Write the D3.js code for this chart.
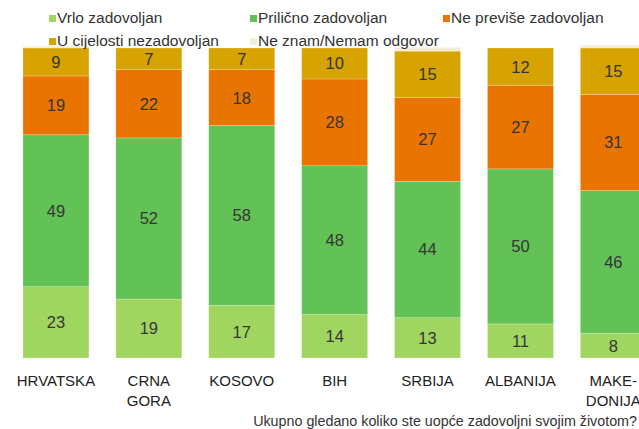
<!DOCTYPE html>
<html><head><meta charset="utf-8">
<script src="https://cdn.jsdelivr.net/npm/d3@7"></script>
<style>
html,body{margin:0;padding:0;background:#fff;}
svg{display:block;font-family:"Liberation Sans",Arial,Helvetica,sans-serif;}
</style></head>
<body>
<svg id="chart" width="639" height="429"></svg>
<script>
const categories = ["HRVATSKA", "CRNA\nGORA", "KOSOVO", "BIH", "SRBIJA", "ALBANIJA", "MAKE-\nDONIJA"];
const seriesNames = ["Vrlo zadovoljan", "Prilično zadovoljan", "Ne previše zadovoljan", "U cijelosti nezadovoljan", "Ne znam/Nemam odgovor"];
const vrlo     = [23, 19, 17, 14, 13, 11, 8];
const prilicno = [49, 52, 58, 48, 44, 50, 46];
const nePrevise= [19, 22, 18, 28, 27, 27, 31];
const uCijelosti=[9, 7, 7, 10, 15, 12, 15];
const neZnam   = [0.6, 0, 0, 0, 1.2, 0, 0.9];
const colors = ["#a0d660", "#62c256", "#ea7400", "#d6a300", "#f1edd6"];
const footnote = "Ukupno gledano koliko ste uopće zadovoljni svojim životom?";

const series = [vrlo, prilicno, nePrevise, uCijelosti, neZnam];
const data = categories.map((c, i) => {
  const o = {cat: c};
  seriesNames.forEach((s, j) => o[s] = series[j][i]);
  return o;
});
const stacked = d3.stack().keys(seriesNames)(data);

const svg = d3.select("#chart");
const x = d3.scaleBand().domain(categories).range([9.5, 659.8]).paddingInner(0.29).paddingOuter(0.145);
const y = d3.scaleLinear().domain([0, 100]).range([358, 48]);

const g = svg.append("g");
stacked.forEach((layer, j) => {
  const lg = g.append("g").attr("fill", colors[j]);
  lg.selectAll("rect").data(layer).join("rect")
    .attr("x", d => x(d.data.cat))
    .attr("width", x.bandwidth())
    .attr("y", d => y(d[1]))
    .attr("height", d => Math.max(0, y(d[0]) - y(d[1])))
    .attr("stroke", "rgba(255,255,255,0.35)")
    .attr("stroke-width", 0.6);
  if (j < 4) {
    g.append("g").selectAll("text").data(layer).join("text")
      .attr("x", d => x(d.data.cat) + x.bandwidth() / 2)
      .attr("y", d => (y(d[0]) + y(d[1])) / 2)
      .attr("dy", "0.36em")
      .attr("text-anchor", "middle")
      .attr("font-size", 16.5)
      .attr("fill", "#353535")
      .text(d => d[1] - d[0]);
  }
});

// x axis labels (multi-line)
const xAxis = svg.append("g").attr("transform", "translate(0,358)")
  .call(d3.axisBottom(x).tickSize(0).tickFormat(""));
xAxis.select(".domain").remove();
xAxis.selectAll(".tick").each(function(d) {
  const t = d3.select(this).append("text")
    .attr("text-anchor", "middle")
    .attr("font-size", 15)
    .attr("fill", "#222");
  d.split("\n").forEach((line, k) => {
    t.append("tspan").attr("x", 0).attr("y", 28 + k * 19.5).text(line);
  });
});

// legend
const legendPos = [[49, 23], [250, 23], [443, 23], [49, 46], [250, 46]];
seriesNames.forEach((s, j) => {
  const [lx, ly] = legendPos[j];
  svg.append("rect").attr("x", lx).attr("y", ly - 8).attr("width", 7).attr("height", 7).attr("fill", colors[j]);
  svg.append("text").attr("x", lx + 8).attr("y", ly).attr("font-size", 15.5).attr("fill", "#333").text(s);
});

svg.append("text").attr("x", 637).attr("y", 426).attr("text-anchor", "end")
  .attr("font-size", 14.3).attr("fill", "#333").text(footnote);
</script>
</body></html>
